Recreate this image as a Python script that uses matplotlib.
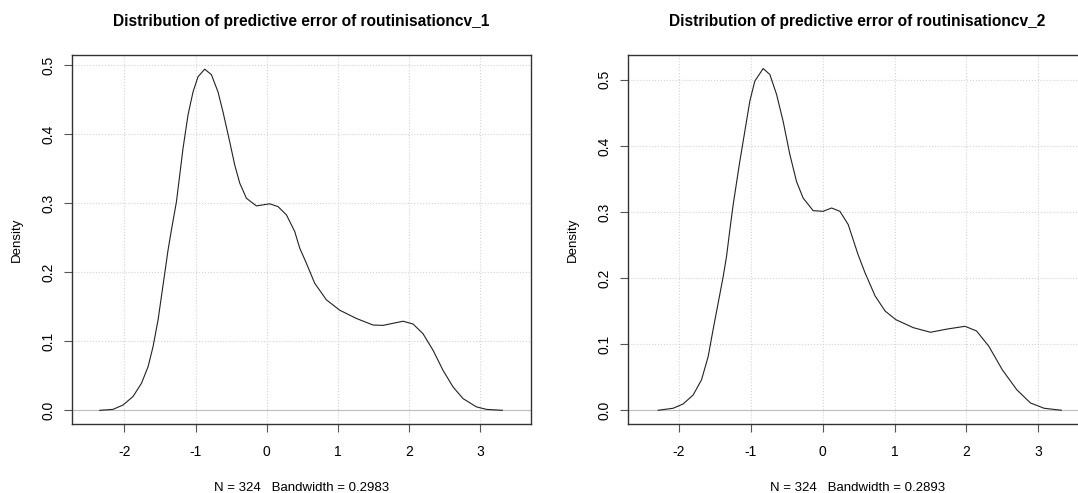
import numpy as np
import matplotlib.pyplot as plt

plt.rcParams['font.family'] = ['Liberation Sans', 'DejaVu Sans']

# density curves
x1 = [-2.345, -2.159, -2.018, -1.878, -1.760, -1.667, -1.597, -1.526, -1.479,
      -1.433, -1.386, -1.339, -1.268, -1.176, -1.105, -1.035, -0.965, -0.871,
      -0.777, -0.684, -0.614, -0.520, -0.449, -0.379, -0.285, -0.145, 0.042,
      0.159, 0.277, 0.393, 0.463, 0.557, 0.674, 0.838, 1.025, 1.260, 1.493,
      1.633, 1.774, 1.915, 2.055, 2.195, 2.336, 2.476, 2.616, 2.757, 2.945,
      3.086, 3.31]
y1 = [0.0, 0.0014, 0.0077, 0.020, 0.039, 0.063, 0.092, 0.131, 0.165,
      0.198, 0.232, 0.261, 0.302, 0.379, 0.428, 0.461, 0.483, 0.494,
      0.486, 0.461, 0.432, 0.389, 0.355, 0.329, 0.307, 0.296, 0.299,
      0.295, 0.283, 0.259, 0.235, 0.213, 0.184, 0.160, 0.145, 0.133, 0.1235,
      0.123, 0.126, 0.129, 0.125, 0.111, 0.087, 0.058, 0.034, 0.017, 0.005,
      0.0014, 0.0]

x2 = [-2.286, -2.078, -1.939, -1.800, -1.683, -1.591, -1.522, -1.452, -1.382,
      -1.335, -1.289, -1.243, -1.150, -1.081, -1.011, -0.942, -0.826, -0.733,
      -0.640, -0.548, -0.455, -0.362, -0.270, -0.131, 0.008, 0.125, 0.241,
      0.356, 0.495, 0.59, 0.73, 0.87, 1.02, 1.26, 1.50, 1.74, 1.98, 2.14,
      2.31, 2.50, 2.70, 2.89, 3.08, 3.32]
y2 = [0.0, 0.003, 0.0095, 0.023, 0.046, 0.081, 0.122, 0.162, 0.202,
      0.233, 0.273, 0.311, 0.377, 0.422, 0.468, 0.498, 0.517, 0.508,
      0.478, 0.437, 0.387, 0.346, 0.321, 0.302, 0.301, 0.306, 0.301,
      0.281, 0.235, 0.208, 0.173, 0.150, 0.137, 0.125, 0.118, 0.123, 0.127,
      0.120, 0.097, 0.061, 0.031, 0.011, 0.003, 0.0]

titles = ['Distribution of predictive error of routinisationcv_1',
          'Distribution of predictive error of routinisationcv_2']
subs = ['N = 324   Bandwidth = 0.2983', 'N = 324   Bandwidth = 0.2893']
xticks = [-2, -1, 0, 1, 2, 3]
yticks = [0.0, 0.1, 0.2, 0.3, 0.4, 0.5]

W, H = 1078, 493
fig = plt.figure(figsize=(W / 100, H / 100), dpi=100)

# box pixel positions: left, right, top, bottom
boxes = [(72, 531, 55, 424), (628, 1087, 55, 424)]
xlims = [(-2.735, 3.712), (-2.705, 3.676)]
ylims = [(-0.0198, 0.5145), (-0.0208, 0.5375)]
data = [(x1, y1), (x2, y2)]

for i in range(2):
    l, r, t, b = boxes[i]
    ax = fig.add_axes([l / W, (H - b) / H, (r - l) / W, (b - t) / H])
    ax.set_xlim(*xlims[i])
    ax.set_ylim(*ylims[i])
    ax.set_xticks(xticks)
    ax.set_xticklabels([str(v) for v in xticks])
    ax.set_yticks(yticks)
    ax.set_yticklabels(['%.1f' % v for v in yticks], rotation=90, va='center')
    ax.grid(True, color='#d3d3d3', linestyle=':', linewidth=0.8)
    ax.axhline(0, color='#bebebe', linewidth=0.8)
    ax.plot(data[i][0], data[i][1], color='#222222', linewidth=0.8)
    for s in ax.spines.values():
        s.set_color('#333333')
        s.set_linewidth(1.0)
    ax.tick_params(direction='out', length=6, width=0.8, color='#555555',
                   labelsize=10, pad=6)
    ax.tick_params(axis='x', pad=9)
    ax.set_title(titles[i], fontsize=11.2, fontweight='bold', pad=21)
    ax.set_ylabel('Density', fontsize=9.5, labelpad=13)
    ax.set_xlabel(subs[i], fontsize=9.5, labelpad=17)

fig.savefig('out.png', dpi=100)
